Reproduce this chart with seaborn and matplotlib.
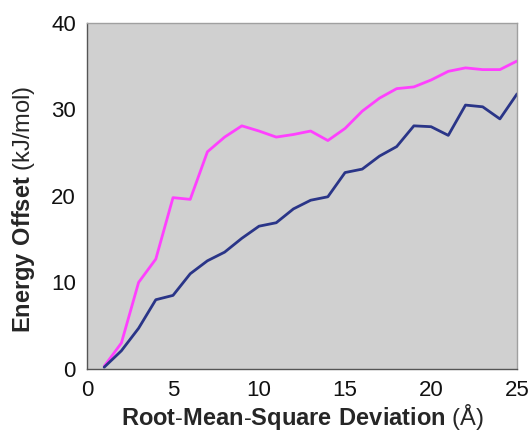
import pandas as pd
import numpy as np
import matplotlib
matplotlib.use('Agg')
import matplotlib.pyplot as plt
import seaborn as sns

# data
rmsd = list(range(1, 26))
upper = [0.3, 3.0, 10.0, 12.7, 19.8, 19.6, 25.1, 26.8, 28.1, 27.5, 26.8, 27.1, 27.5,
         26.4, 27.8, 29.8, 31.3, 32.4, 32.6, 33.4, 34.4, 34.8, 34.6, 34.6, 35.6]
lower = [0.2, 2.1, 4.7, 8.0, 8.5, 11.0, 12.5, 13.5, 15.1, 16.5, 16.9, 18.5, 19.5,
         19.9, 22.7, 23.1, 24.6, 25.7, 28.1, 28.0, 27.0, 30.5, 30.3, 28.9, 31.8]
x_ticks = [0, 5, 10, 15, 20, 25]
y_ticks = [0, 10, 20, 30, 40]

df = pd.DataFrame({'rmsd': rmsd, 'upper': upper, 'lower': lower})

sns.set_style('white')
plt.rcParams['font.family'] = ['Liberation Sans', 'DejaVu Sans']
plt.rcParams['mathtext.fontset'] = 'custom'
plt.rcParams['mathtext.rm'] = 'Liberation Sans'
plt.rcParams['mathtext.bf'] = 'Liberation Sans:bold'

fig = plt.figure(figsize=(5.32, 4.32), dpi=100)
ax = fig.add_axes([0.1635, 0.146, 0.8085, 0.801])
ax.set_facecolor('#d0d0d0')

sns.lineplot(x='rmsd', y='upper', data=df, color='#ff40ff', linewidth=2, ax=ax)
sns.lineplot(x='rmsd', y='lower', data=df, color='#2a3588', linewidth=2, ax=ax)

ax.set_xlim(0, 25)
ax.set_ylim(0, 40)
ax.set_xticks(x_ticks)
ax.set_yticks(y_ticks)
ax.tick_params(axis='both', labelsize=16, direction='out', length=6, width=1,
               color='#555555', labelcolor='#111111', pad=2)

for s in ['top', 'right']:
    ax.spines[s].set_color('#a0a0a0')
for s in ['left', 'bottom']:
    ax.spines[s].set_color('#555555')
for s in ax.spines.values():
    s.set_linewidth(1)

ax.set_xlabel(r'$\bf{Root}$-$\bf{Mean}$-$\bf{Square\ Deviation}$ (Å)', fontsize=17, labelpad=1)
ax.set_ylabel(r'$\bf{Energy\ Offset}$ (kJ/mol)', fontsize=17, labelpad=10)
ax.yaxis.label.set_y(0.46)

plt.savefig('out.png', dpi=100)
